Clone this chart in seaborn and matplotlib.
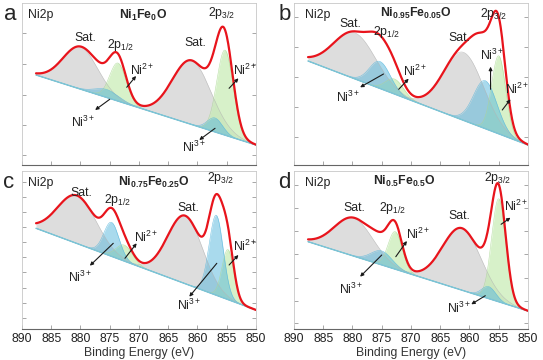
import numpy as np
import pandas as pd
import matplotlib
matplotlib.use("Agg")
import matplotlib.pyplot as plt
import seaborn as sns

# Ni 2p XPS fits, four compositions (intensity in arb. units)
e_high = 887.6
e_low = 850.0

panel_letters = ["a", "b", "c", "d"]
titles = [r"$\mathbf{Ni_1Fe_0O}$", r"$\mathbf{Ni_{0.95}Fe_{0.05}O}$",
          r"$\mathbf{Ni_{0.75}Fe_{0.25}O}$", r"$\mathbf{Ni_{0.5}Fe_{0.5}O}$"]

# linear background at high / low BE end
bg_high = [90, 104, 100.7, 87.3]
bg_low = [20, 20, 19, 18]

# components, each entry = [2p1/2 region, 2p3/2 region]
sat_center = [[880.0, 861.0], [879.6, 861.0], [880.6, 862.1], [879.8, 861.3]]
sat_height = [[42, 64], [46, 68], [48, 68], [38, 62]]
sat_width = [[3.0, 3.3], [3.6, 3.4], [3.3, 3.0], [3.3, 3.3]]

ni2_center = [[873.6, 855.3], [872.8, 855.0], [872.5, 854.8], [872.7, 855.0]]
ni2_height = [[38, 85], [15, 78], [16, 50], [37.5, 103]]
ni2_width = [[1.4, 1.4], [1.5, 1.2], [1.4, 1.0], [1.2, 1.2]]

ni3_center = [[875.5, 857.0], [875.3, 857.3], [874.7, 856.8], [875.0, 856.7]]
ni3_height = [[8, 14], [27, 48], [34, 80], [14, 12]]
ni3_width = [[2.0, 1.3], [1.8, 2.0], [1.3, 1.2], [1.8, 1.2]]


def peak(e, c, h, w):
    return h * np.exp(-(e - c) ** 2 / (2 * w ** 2))


sns.set_theme(style="ticks")
plt.rcParams["font.family"] = ["Liberation Sans", "DejaVu Sans"]
plt.rcParams["mathtext.fontset"] = "custom"
plt.rcParams["mathtext.rm"] = "Liberation Sans"
plt.rcParams["mathtext.it"] = "Liberation Sans:italic"
plt.rcParams["mathtext.bf"] = "Liberation Sans:bold"

fig = plt.figure(figsize=(5.43, 3.6), dpi=100)
W, H = 543.0, 360.0
rects = [(22, 3, 165), (294, 3, 165), (22, 171, 329), (294, 171, 329)]
yticks = [[10, 40, 70, 101, 132], [28, 58, 88, 118, 148],
          [11, 26, 41, 57, 72, 87, 102, 117, 132, 147],
          [6, 28, 51, 75, 98, 121, 144]]
letter_pos = [(10, 14), (285, 14), (9, 182), (284, 182)]

# label layout: (text, E, I) and arrows (tail E, tail I, head E, head I)
labels = [
    [("Sat.", 879.2, 127), (r"2p$_{1/2}$", 873.2, 120), ("Sat.", 860.4, 122), (r"2p$_{3/2}$", 855.9, 152),
     (r"Ni$^{2+}$", 869.5, 95), (r"Ni$^{3+}$", 879.5, 43), (r"Ni$^{2+}$", 851.9, 95), (r"Ni$^{3+}$", 860.6, 18)],
    [("Sat.", 880.4, 141), (r"2p$_{1/2}$", 874.1, 133), ("Sat.", 861.7, 127), (r"2p$_{3/2}$", 855.9, 151),
     (r"Ni$^{2+}$", 869.3, 94), (r"Ni$^{3+}$", 880.7, 68), (r"Ni$^{3+}$", 856.1, 110), (r"Ni$^{2+}$", 851.8, 76)],
    [("Sat.", 879.8, 136), (r"2p$_{1/2}$", 873.6, 129), ("Sat.", 861.5, 121), (r"2p$_{3/2}$", 856.0, 151),
     (r"Ni$^{2+}$", 868.7, 92), (r"Ni$^{3+}$", 880.1, 52), (r"Ni$^{2+}$", 851.8, 83), (r"Ni$^{3+}$", 861.4, 24)],
    [("Sat.", 879.7, 121), (r"2p$_{1/2}$", 873.1, 121), ("Sat.", 861.7, 113), (r"2p$_{3/2}$", 855.2, 151),
     (r"Ni$^{2+}$", 868.7, 95), (r"Ni$^{3+}$", 880.3, 40), (r"Ni$^{2+}$", 852.1, 123), (r"Ni$^{3+}$", 861.7, 21)],
]
arrows = [
    [(872.1, 77.7, 870.5, 89), (875.0, 65.7, 877.5, 55), (854.6, 76.7, 853.0, 86.7), (857.0, 36.7, 859.7, 25)],
    [(872.1, 75.7, 870.4, 86.3), (874.7, 91, 878.7, 77.7), (856.4, 75.7, 856.4, 98.3), (854.4, 55, 853.0, 65.7)],
    [(872.4, 70.7, 870.4, 85.7), (874.4, 85.7, 878.4, 63.3), (854.6, 64, 853.0, 74), (856.7, 65.7, 861.4, 32.3)],
    [(872.6, 72.3, 870.7, 88), (875.0, 74, 878.7, 52.3), (854.6, 104.7, 853.0, 111.3), (857.3, 33.3, 859.7, 24.7)],
]
title_pos = [(869.3, 150), (869.1, 152), (867.4, 147), (871.1, 148)]

energy = np.linspace(e_low, e_high, 500)

for i in range(4):
    x0, ytop, ybot = rects[i]
    ax = fig.add_axes([x0 / W, 1 - ybot / H, 234 / W, (ybot - ytop) / H])
    bg = bg_low[i] + (bg_high[i] - bg_low[i]) * (energy - e_low) / (e_high - e_low)
    comps = []
    for k in range(2):
        comps.append(("sat", peak(energy, sat_center[i][k], sat_height[i][k], sat_width[i][k])))
    for k in range(2):
        comps.append(("ni2", peak(energy, ni2_center[i][k], ni2_height[i][k], ni2_width[i][k])))
    for k in range(2):
        comps.append(("ni3", peak(energy, ni3_center[i][k], ni3_height[i][k], ni3_width[i][k])))
    style = {"sat": ("#d8d8d8", 0.85, "#b5b5b5"), "ni2": ("#c6ecb2", 0.7, "#a8d890"),
             "ni3": ("#55b6dc", 0.5, "#55b6dc")}
    for kind, y in comps:
        fc, a, ec = style[kind]
        ax.fill_between(energy, bg, bg + y, color=fc, alpha=a, lw=0)
        ax.plot(energy, bg + y, color=ec, lw=0.4, alpha=0.8)
    ax.plot(energy, bg, color="#7cc4d8", lw=1.0)
    total = bg + sum(y for _, y in comps)
    df = pd.DataFrame({"BE": energy, "I": total})
    sns.lineplot(data=df, x="BE", y="I", ax=ax, color="#e8141c", lw=1.6, sort=False)

    ax.set_xlim(890, 850)
    ax.set_ylim(0, ybot - ytop)
    ax.set_xticks(np.arange(890, 849, -5))
    ax.set_yticks(yticks[i])
    ax.set_yticklabels([])
    ax.tick_params(direction="in", length=3, color="#999999", width=0.6,
                   left=True, right=True, bottom=True, top=False, labelsize=8.8, pad=3,
                   labelcolor="#222222")
    for s in ["left", "right", "top"]:
        ax.spines[s].set_color("#c8c8c8")
        ax.spines[s].set_linewidth(0.6)
    ax.spines["bottom"].set_color("#666666")
    ax.spines["bottom"].set_linewidth(0.8)
    if i < 2:
        ax.set_xticklabels([])
        ax.set_xlabel("")
    else:
        ax.set_xlabel("Binding Energy (eV)", fontsize=8.8, color="#333333", labelpad=1)
    ax.set_ylabel("")

    top = ybot - ytop
    ax.text(888.9 if i % 2 == 0 else 888.2, top - 12, "Ni2p", fontsize=8.8, ha="left", va="center", color="#222222")
    ax.text(title_pos[i][0], title_pos[i][1], titles[i], fontsize=8.8, ha="center", va="center")
    for t, e, yy in labels[i]:
        ax.text(e, yy, t, fontsize=8.8, ha="center", va="center", color="#222222")
    for te, ti, he, hi in arrows[i]:
        ax.annotate("", xy=(he, hi), xytext=(te, ti),
                    arrowprops=dict(arrowstyle="-|>", lw=0.8, color="k", mutation_scale=5,
                                    shrinkA=0, shrinkB=0))
    fig.text(letter_pos[i][0] / W, 1 - letter_pos[i][1] / H, panel_letters[i],
             fontsize=16, ha="center", va="center")

fig.savefig("out.png", dpi=100)
